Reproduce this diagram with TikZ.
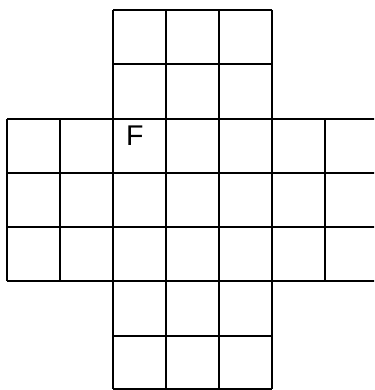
\documentclass[tikz,border=0pt]{standalone}
\usepackage{fontspec}
\setmainfont{Liberation Sans}
\begin{document}
\begin{tikzpicture}[x=1pt,y=1pt,gridline/.style={line width=1.6pt,black}]
\useasboundingbox (0,0) rectangle (374,390);
\clip (0,0) rectangle (374,390);
% y_tikz = 390 - y_img
% top arm: cols 113..272, rows 10..119
\foreach \x in {113,166,219,272} \draw[gridline] (\x,380) -- (\x,271);
\foreach \y in {380,326} \draw[gridline] (113,\y) -- (272,\y);
% middle band: cols 7..378, rows 119..281
\foreach \x in {7,60,113,166,219,272,325,378} \draw[gridline] (\x,271) -- (\x,109);
\foreach \y in {271,217,163,109} \draw[gridline] (7,\y) -- (380,\y);
% bottom arm: cols 113..272, rows 281..389
\foreach \x in {113,166,219,272} \draw[gridline] (\x,109) -- (\x,1);
\foreach \y in {54,1} \draw[gridline] (113,\y) -- (272,\y);
\node[anchor=base west,inner sep=0pt,font=\fontsize{28.5}{30}\selectfont] (F) at (126,244) {F};
\end{tikzpicture}
\end{document}
